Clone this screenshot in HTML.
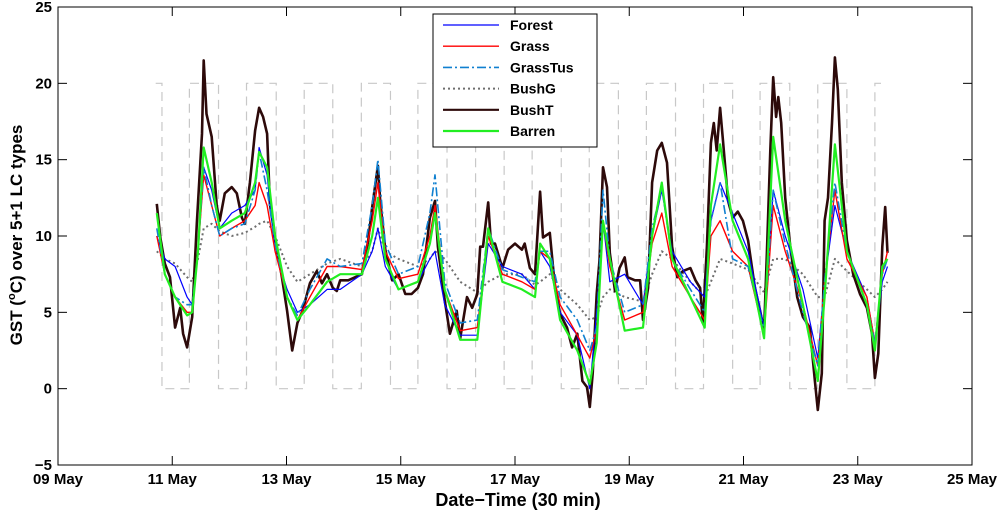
<!DOCTYPE html>
<html><head><meta charset="utf-8">
<style>
html,body{margin:0;padding:0;background:#fff;}
svg{display:block;font-family:"Liberation Sans",Arial,sans-serif;}
</style></head>
<body>
<svg id="chart" width="1000" height="515" viewBox="0 0 1000 515" xmlns="http://www.w3.org/2000/svg">
  <rect x="0" y="0" width="1000" height="515" fill="#fff"/>
  <g id="daynight"></g>
  <g id="series"></g>
  <rect x="58" y="7" width="914" height="458" fill="none" stroke="#000" stroke-width="1"/>
  <g id="axes"></g>
  <text x="518" y="506" text-anchor="middle" font-size="18" font-weight="bold">Date−Time (30 min)</text>
  <text transform="translate(22,235) rotate(-90)" text-anchor="middle" font-size="17" font-weight="bold">GST (<tspan font-size="11" dy="-7">o</tspan><tspan dy="7">C) over 5+1 LC types</tspan></text>
  <g id="legend"></g>
</svg>
<script>
// ---------- data ----------
const xTickDays = [9,11,13,15,17,19,21,23,25];
const xTickLabels = ["09 May","11 May","13 May","15 May","17 May","19 May","21 May","23 May","25 May"];
const yTicks = [-5,0,5,10,15,20,25];

// shared time grid (day of May) for five series
const times = [10.73,10.87,11.05,11.26,11.35,11.45,11.55,11.69,11.83,12.04,12.27,12.45,12.52,12.66,12.80,13.01,13.19,13.41,13.71,13.94,14.32,14.50,14.60,14.73,14.96,15.30,15.51,15.60,15.77,16.04,16.34,16.53,16.78,17.12,17.35,17.44,17.61,17.79,18.09,18.31,18.43,18.54,18.66,18.92,19.24,19.40,19.57,19.75,20.07,20.32,20.43,20.59,20.81,21.08,21.36,21.52,21.73,22.04,22.30,22.42,22.60,22.81,23.16,23.30,23.43,23.52];
const forest =   [10,8.5,8,6,5.5,9,14.5,13,10.5,11.5,12,13,15.8,14,9,6.5,5,5.5,6.5,6.5,7.5,9,10.5,8,6.5,7,8.5,9,5.5,3.5,3.5,9.5,8,7.5,6.5,9,8,5,3.5,0,5,11,7,7.5,5.5,10,13,9,7,6,11,13.5,11.5,9,4,13,10,6.5,2,7,12,9,6,3,7,8];
const grass =    [10,7.5,6,5,5,9,14,12,10,10.5,11,12,13.5,12,9,6,4.5,6,8,8,7.8,11,13.5,9,7.2,7.5,10,12,6.5,3.8,4,10,7.5,7,6.5,9,8.5,5.5,3.5,2,4,11,8,4.5,5,9.5,11.5,8,6,4.5,10,11,9,8,3.5,12,9,5.5,1.5,7,13,8.5,6,3,7.5,9];
const grassTus = [10.5,7.5,6,5.5,5.5,9,14.5,12,10,10.5,10.8,13,15.5,13,9.5,6,4.8,6.5,8.5,8,8.2,12,15,9.5,7.5,8,11.5,14,7,4.3,4.5,10.5,7.8,7.3,7,9,9,6,4.5,2.5,4,13,8.5,5,5.5,10.5,13.2,8.5,6.5,5,11,13.5,8.5,8,3.8,13,9.5,5,1.5,7,13.5,9,5.5,3,7.5,8.5];
const bushG =    [9,8.5,8.2,7.3,7,8.5,10.5,10.8,10.3,10,10.2,10.6,10.8,11,10,8,7,7.5,8.2,8.5,8,9,10.5,9,8.5,8,8.5,9,8.5,7,6.3,7,7.5,7.5,6.8,7,7.5,6.5,5.5,4.5,4.7,6,6.5,6,5.7,7.5,9,8.5,7,6,7,8.5,8.2,7.8,6.3,8.5,8.5,7.5,6,6,8.5,7.7,6.5,6,6.5,7];
const barren =   [11.5,7.5,6,4.8,5,9,15.8,13.5,10.5,11,11.5,13.5,15.5,14.5,10,6,4.5,5.5,7,7.5,7.5,10,12.5,8.5,6.5,7,9.5,11.5,6.5,3.2,3.2,10.5,7,6.5,6,9.5,8.5,4.5,2.5,0.3,3,11,8.5,3.8,4,10,13.5,8.5,6,4,12,16,11,8.5,3.3,16.5,11,5.5,0.5,6,16,9,5.5,2.5,8,8.5];

// BushT has more detail: its own time grid
const timesBushT = [10.73,10.79,10.87,10.96,11.05,11.14,11.19,11.26,11.35,11.43,11.52,11.55,11.60,11.69,11.78,11.83,11.92,12.04,12.13,12.22,12.27,12.36,12.45,12.52,12.59,12.66,12.71,12.80,12.92,13.01,13.10,13.19,13.28,13.41,13.53,13.62,13.71,13.81,13.88,13.94,14.08,14.32,14.43,14.50,14.60,14.64,14.73,14.85,14.96,15.08,15.19,15.30,15.39,15.51,15.60,15.65,15.77,15.86,15.98,16.04,16.16,16.25,16.34,16.39,16.44,16.53,16.58,16.65,16.78,16.88,17.00,17.12,17.17,17.26,17.35,17.44,17.49,17.61,17.70,17.79,17.91,18.00,18.09,18.18,18.26,18.31,18.36,18.43,18.48,18.54,18.61,18.66,18.75,18.83,18.92,18.97,19.10,19.19,19.24,19.33,19.40,19.49,19.57,19.66,19.75,19.84,19.94,20.07,20.16,20.24,20.29,20.36,20.43,20.48,20.53,20.59,20.64,20.73,20.81,20.90,20.99,21.08,21.20,21.29,21.36,21.41,21.47,21.52,21.57,21.61,21.66,21.73,21.82,21.94,22.04,22.16,22.25,22.30,22.37,22.42,22.48,22.55,22.60,22.65,22.72,22.81,22.92,23.04,23.16,23.25,23.30,23.36,23.43,23.48,23.52];
const bushT = [12.1,9.9,8.2,7.3,4.0,5.3,3.6,2.7,4.7,10.8,16.7,21.5,18,16.5,11.9,11,12.8,13.2,12.8,11.2,10.8,13.5,16.9,18.4,17.8,16.7,12.1,9.9,7.3,5.1,2.5,4.3,5.1,6.9,7.7,6.9,7.5,6.6,6.4,7.1,7.1,7.5,9.7,11.9,14.6,12.3,9.1,7.1,7.5,6.2,6.2,6.6,7.5,11.2,12.3,9.3,5.8,3.6,5.1,3.3,6.0,5.3,6.2,9.3,9.3,12.2,9.5,9.5,7.9,9.1,9.5,9.1,9.5,7.9,7.5,12.9,9.9,10.2,6.6,4.9,4.0,2.7,3.6,0.5,0.1,-1.2,1.0,6.2,8.4,14.5,13.2,8.9,6.4,7.9,8.6,7.3,7.1,7.1,4.5,6.6,13.5,15.6,16.1,14.8,9.3,7.3,7.7,7.9,7.1,6.6,4.3,9.3,16.1,17.4,15.6,18.4,16.3,12.3,11.2,11.6,11.0,9.7,6.6,5.1,3.8,8.9,15.6,20.4,17.8,19.1,17.4,12.5,9.3,6.0,4.7,4.0,0.5,-1.4,1.0,11.0,12.5,17.4,21.7,19.6,13.5,9.7,7.5,6.2,5.3,3.6,0.7,2.3,9.3,11.9,8.9];

// day/night indicator switch times (value 20 = high, 0 = low)
const dnTimes = [10.71,10.82,11.30,11.81,12.30,12.82,13.31,13.81,14.31,14.82,15.30,15.81,16.31,16.81,17.30,17.81,18.30,18.81,19.30,19.81,20.30,20.81,21.29,21.81,22.30,22.81,23.30,23.51];
const dnValues = [20,0,20,0,20,0,20,0,20,0,20,0,20,0,20,0,20,0,20,0,20,0,20,0,20,0,20,20];

// ---------- scales ----------
const X0=58, X1=972, Y0=465, Y1=7;
const xMin=9, xMax=25, yMin=-5, yMax=25;
function sx(d){return X0+(d-xMin)/(xMax-xMin)*(X1-X0);}
function sy(v){return Y0-(v-yMin)/(yMax-yMin)*(Y0-Y1);}
const NS="http://www.w3.org/2000/svg";
function mk(tag,attrs,parent){const e=document.createElementNS(NS,tag);for(const k in attrs)e.setAttribute(k,attrs[k]);parent.appendChild(e);return e;}

// day-night square wave
(function(){
  const g=document.getElementById('daynight');
  let d="";
  for(let i=0;i<dnTimes.length;i++){
    const x=sx(dnTimes[i]);
    if(i===0){d+="M"+x+","+sy(dnValues[i]);}
    else{d+=" L"+x+","+sy(dnValues[i-1])+" L"+x+","+sy(dnValues[i]);}
  }
  const p=mk('path',{d:d,fill:"none",stroke:"#c8c8c8","stroke-width":1.2,"stroke-dasharray":"9,6"},g);
  
  
})();

// series
const seriesDefs=[
  {name:"Forest",t:times,v:forest,color:"#0000ff",w:1.2,dash:"",key:"forest"},
  {name:"Grass",t:times,v:grass,color:"#ff0000",w:1.4,dash:"",key:"grass"},
  {name:"GrassTus",t:times,v:grassTus,color:"#1080d0",w:1.6,dash:"9,3,2,3",key:"grasstus"},
  {name:"BushG",t:times,v:bushG,color:"#6e6e6e",w:2,dash:"2,3",key:"bushg"},
  {name:"BushT",t:timesBushT,v:bushT,color:"#2d0a0a",w:2.6,dash:"",key:"busht"},
  {name:"Barren",t:times,v:barren,color:"#22ee22",w:2.2,dash:"",key:"barren"}
];
const drawOrder=[3,4,0,1,2,5];
(function(){
  const g=document.getElementById('series');
  drawOrder.forEach(i=>{
    const s=seriesDefs[i];
    const pts=s.t.map((t,j)=>sx(t).toFixed(1)+","+sy(s.v[j]).toFixed(1)).join(" ");
    const a={points:pts,fill:"none",stroke:s.color,"stroke-width":s.w,"stroke-linejoin":"round"};
    if(s.dash)a["stroke-dasharray"]=s.dash;
    const pl=mk('polyline',a,g);
    
    
  });
})();

// axes ticks & labels
(function(){
  const g=document.getElementById('axes');
  xTickDays.forEach((d,i)=>{
    const x=sx(d);
    mk('line',{x1:x,y1:Y0,x2:x,y2:Y0-9,stroke:"#000"},g);
    mk('line',{x1:x,y1:Y1,x2:x,y2:Y1+9,stroke:"#000"},g);
    const t=mk('text',{x:x,y:Y0+19,"text-anchor":"middle","font-size":15,"font-weight":"bold"},g);
    t.textContent=xTickLabels[i];
    
    
  });
  yTicks.forEach(v=>{
    const y=sy(v);
    mk('line',{x1:X0,y1:y,x2:X0+9,y2:y,stroke:"#000"},g);
    mk('line',{x1:X1,y1:y,x2:X1-9,y2:y,stroke:"#000"},g);
    const t=mk('text',{x:X0-6,y:y+5,"text-anchor":"end","font-size":15,"font-weight":"bold"},g);
    t.textContent=String(v).replace('-','−');
    
    
  });
})();

// legend
(function(){
  const g=document.getElementById('legend');
  const box=mk('rect',{x:433,y:14,width:164,height:133,fill:"#fff",stroke:"#000","stroke-width":1},g);
  
  
  seriesDefs.forEach((s,i)=>{
    const y=25+i*21.2;
    const eg=mk('g',{},g);
    
    
    const a={x1:443,y1:y,x2:499,y2:y,stroke:s.color,"stroke-width":Math.min(s.w,2.2)};
    if(s.dash)a["stroke-dasharray"]=s.dash;
    mk('line',a,eg);
    const t=mk('text',{x:510,y:y+5,"font-size":14,"font-weight":"bold"},eg);
    t.textContent=s.name;
  });
})();
</script>
</body></html>
